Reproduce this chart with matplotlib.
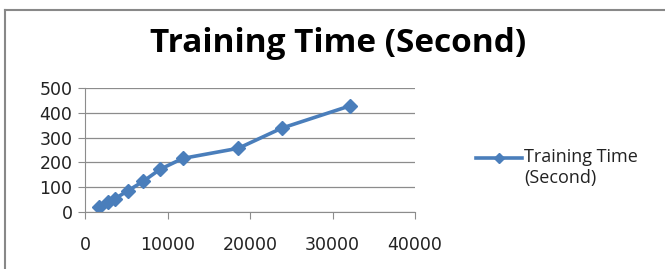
import matplotlib.pyplot as plt
from matplotlib.lines import Line2D

samples = [1750, 2830, 3640, 5170, 7070, 9090, 11840, 18590, 23840, 32120]
train_time = [20, 40, 54, 85, 124, 172, 216, 257, 338, 428]
series_name = 'Training Time\n(Second)'
title = 'Training Time (Second)'

plt.rcParams['font.family'] = ['Open Sans', 'DejaVu Sans']

fig = plt.figure(figsize=(6.65, 2.69), dpi=100)
W, H = 665, 269
blue = '#4a7ebb'

# chart border (only top and left edges visible in the crop)
fig.add_artist(Line2D([5 / W, 5 / W], [0, 1 - 9.5 / H], color='#888888', lw=1.5))
fig.add_artist(Line2D([5 / W, 1], [1 - 9.5 / H, 1 - 9.5 / H], color='#888888', lw=1.5))

ax = fig.add_axes([85 / W, 1 - 212 / H, 330 / W, 124 / H])
ax.plot(samples, train_time, color=blue, lw=2.6, marker='D', ms=7.5)
ax.set_xlim(0, 40000)
ax.set_ylim(0, 500)
ax.set_xticks(range(0, 40001, 10000))
ax.set_yticks(range(0, 501, 100))
ax.grid(axis='y', color='#8c8c8c', lw=0.9)
ax.set_axisbelow(True)
for s in ['top', 'right']:
    ax.spines[s].set_visible(False)
for s in ['left', 'bottom']:
    ax.spines[s].set_color('#8c8c8c')
ax.tick_params(axis='x', direction='out', length=5, color='#8c8c8c', pad=12)
ax.tick_params(axis='y', direction='out', length=5, color='#8c8c8c', pad=4)
for lab in ax.get_xticklabels() + ax.get_yticklabels():
    lab.set_family('DejaVu Sans')
    lab.set_fontsize(12.5)
    lab.set_color('#222222')

fig.text(338 / W, 1 - 44 / H, title, ha='center', va='center',
         fontsize=24, fontweight='bold')

# legend: handle aligned with the first text line, as in the original
ly = 1 - 158 / H
fig.add_artist(Line2D([476 / W, 522 / W], [ly, ly], color=blue, lw=2.6))
fig.add_artist(Line2D([499 / W], [ly], color=blue, marker='D', ms=5.5))
fig.text(524 / W, 1 - 148 / H, series_name, ha='left', va='top',
         fontsize=13, linespacing=1.2, color='#222222')

fig.savefig('out.png', dpi=100)
